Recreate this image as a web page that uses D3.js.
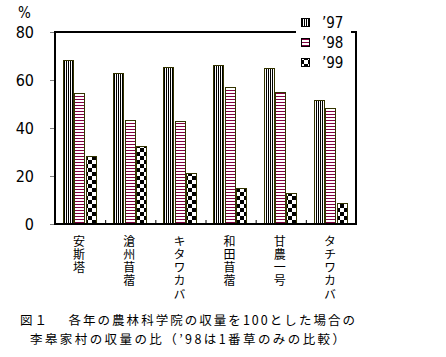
<!DOCTYPE html>
<html><head><meta charset="utf-8">
<script src="https://cdn.jsdelivr.net/npm/d3@7"></script>
<style>body{margin:0;background:#fff}svg{display:block}</style>
</head><body>
<script>
const categories = ["安斯塔","滄州苜蓿","キタワカバ","和田苜蓿","甘農一号","タチワカバ"];
const seriesNames = ["’97","’98","’99"];
const v97 = [68.3, 62.9, 65.4, 66.1, 64.9, 51.7];
const v98 = [54.5, 43.3, 42.9, 57.0, 54.9, 48.3];
const v99 = [28.3, 32.5, 21.3, 15.0, 12.9, 8.8];
const yTicks = [0, 20, 40, 60, 80];
const caption = ["図１　 各年の農林科学院の収量を100とした場合の", "李皋家村の収量の比（’98は1番草のみの比較）"];

const W = 446, H = 357;
const svg = d3.select("body").append("svg").attr("width", W).attr("height", H);
const defs = svg.append("defs");
// patterns
const p1 = defs.append("pattern").attr("id","p97").attr("patternUnits","userSpaceOnUse").attr("width",2).attr("height",2);
p1.append("rect").attr("width",2).attr("height",2).attr("fill","#fff");
p1.append("rect").attr("width",1).attr("height",2).attr("fill","#000");
const p2 = defs.append("pattern").attr("id","p98").attr("patternUnits","userSpaceOnUse").attr("width",3).attr("height",3);
p2.append("rect").attr("width",3).attr("height",3).attr("fill","#fff");
p2.append("rect").attr("width",3).attr("height",1).attr("fill","#800040");
const p3 = defs.append("pattern").attr("id","p99").attr("patternUnits","userSpaceOnUse").attr("width",8).attr("height",8);
p3.append("rect").attr("width",8).attr("height",8).attr("fill","#fff");
p3.append("rect").attr("width",4).attr("height",4).attr("fill","#000");
p3.append("rect").attr("x",4).attr("y",4).attr("width",4).attr("height",4).attr("fill","#000");
const fills = ["url(#p97)","url(#p98)","url(#p99)"];
const strokes = ["#333300","#333300","#333300"];

const mL = 55, mR = 356, mT = 32, mB = 224;
const x = d3.scaleBand().domain(categories).range([mL, mR]).paddingInner(0).paddingOuter(0);
const xs = d3.scaleBand().domain(seriesNames).range([0, x.bandwidth()]).paddingInner(0).paddingOuter(0.7);
const y = d3.scaleLinear().domain([0, 80]).range([mB, mT]);

const data = [v97, v98, v99];
const g = svg.append("g");
categories.forEach((c, i) => {
  seriesNames.forEach((s, j) => {
    const val = data[j][i];
    g.append("rect")
      .attr("x", Math.round(x(c) + xs(s)) + 0.5)
      .attr("y", Math.round(y(val)) + 0.5)
      .attr("width", Math.round(xs.bandwidth()) - 1)
      .attr("height", Math.round(y(0) - y(val)))
      .attr("fill", fills[j]).attr("stroke", strokes[j]).attr("stroke-width", 1);
  });
});

// y axis ticks (gray)
const yAxis = d3.axisLeft(y).tickValues(yTicks).tickSize(5).tickFormat("");
const ya = svg.append("g").attr("transform", `translate(${mL},0)`).call(yAxis);
ya.select(".domain").remove();
ya.selectAll("line").attr("stroke", "#808080");
svg.append("g").selectAll("text").data(yTicks).join("text")
  .attr("x", 34).attr("y", d => y(d)).attr("dy", "0.36em")
  .attr("text-anchor", "end").attr("font-family", "'Liberation Sans Narrow','DejaVu Sans Condensed',sans-serif")
  .attr("font-size", 16).attr("fill", "#000").text(d => d);
svg.append("text").attr("x", 18).attr("y", 18).attr("font-family", "'Liberation Sans Narrow','DejaVu Sans Condensed',sans-serif")
  .attr("font-size", 15).text("%");

// bottom ticks at boundaries (inward)
const bounds = categories.slice(1).map(c => x(c));
svg.append("g").selectAll("line").data(bounds).join("line")
  .attr("x1", d => d + 0.5).attr("x2", d => d + 0.5).attr("y1", mB).attr("y2", mB - 4)
  .attr("stroke", "#000");

// frame
svg.append("line").attr("x1", mL).attr("x2", mL).attr("y1", mT).attr("y2", mB+1).attr("stroke","#000").attr("stroke-width",2);
svg.append("line").attr("x1", mL-1).attr("x2", mR+1).attr("y1", mB).attr("y2", mB).attr("stroke","#000").attr("stroke-width",2);
svg.append("line").attr("x1", mL-1).attr("x2", 296).attr("y1", mT).attr("y2", mT).attr("stroke","#000").attr("stroke-width",2);
svg.append("line").attr("x1", 351).attr("x2", mR+1).attr("y1", mT).attr("y2", mT).attr("stroke","#000").attr("stroke-width",2);
svg.append("line").attr("x1", mR).attr("x2", mR).attr("y1", mT-1).attr("y2", mB+1).attr("stroke","#000").attr("stroke-width",2);

// category labels vertical
svg.append("g").selectAll("text").data(categories).join("text")
  .attr("font-family", "'Noto Sans CJK JP',sans-serif").attr("font-size", 12)
  .attr("writing-mode", "vertical-rl").attr("text-orientation", "upright")
  .style("letter-spacing", "1.3px")
  .attr("x", c => x(c) + x.bandwidth()/2 - 1).attr("y", 235)
  .attr("fill", "#000").text(c => c);

// legend
const leg = svg.append("g");
seriesNames.forEach((s, j) => {
  leg.append("rect").attr("x", 301.5).attr("y", 18.5 + j*20).attr("width", 8).attr("height", 8)
    .attr("fill", fills[j]).attr("stroke", "#000");
  leg.append("text").attr("x", 322).attr("y", 28 + j*20).attr("font-family", "'Liberation Sans Narrow','DejaVu Sans Condensed',sans-serif")
    .attr("font-size", 15).text(s);
});

// caption
svg.append("text").attr("x", 20).attr("y", 325).attr("font-family", "'Noto Sans CJK JP',sans-serif").attr("font-size", 12.5)
  .attr("textLength", 335).attr("lengthAdjust", "spacing").text(caption[0]);
svg.append("text").attr("x", 30).attr("y", 344).attr("font-family", "'Noto Sans CJK JP',sans-serif").attr("font-size", 12.5)
  .attr("textLength", 315).attr("lengthAdjust", "spacing").text(caption[1]);
</script>
</body></html>
